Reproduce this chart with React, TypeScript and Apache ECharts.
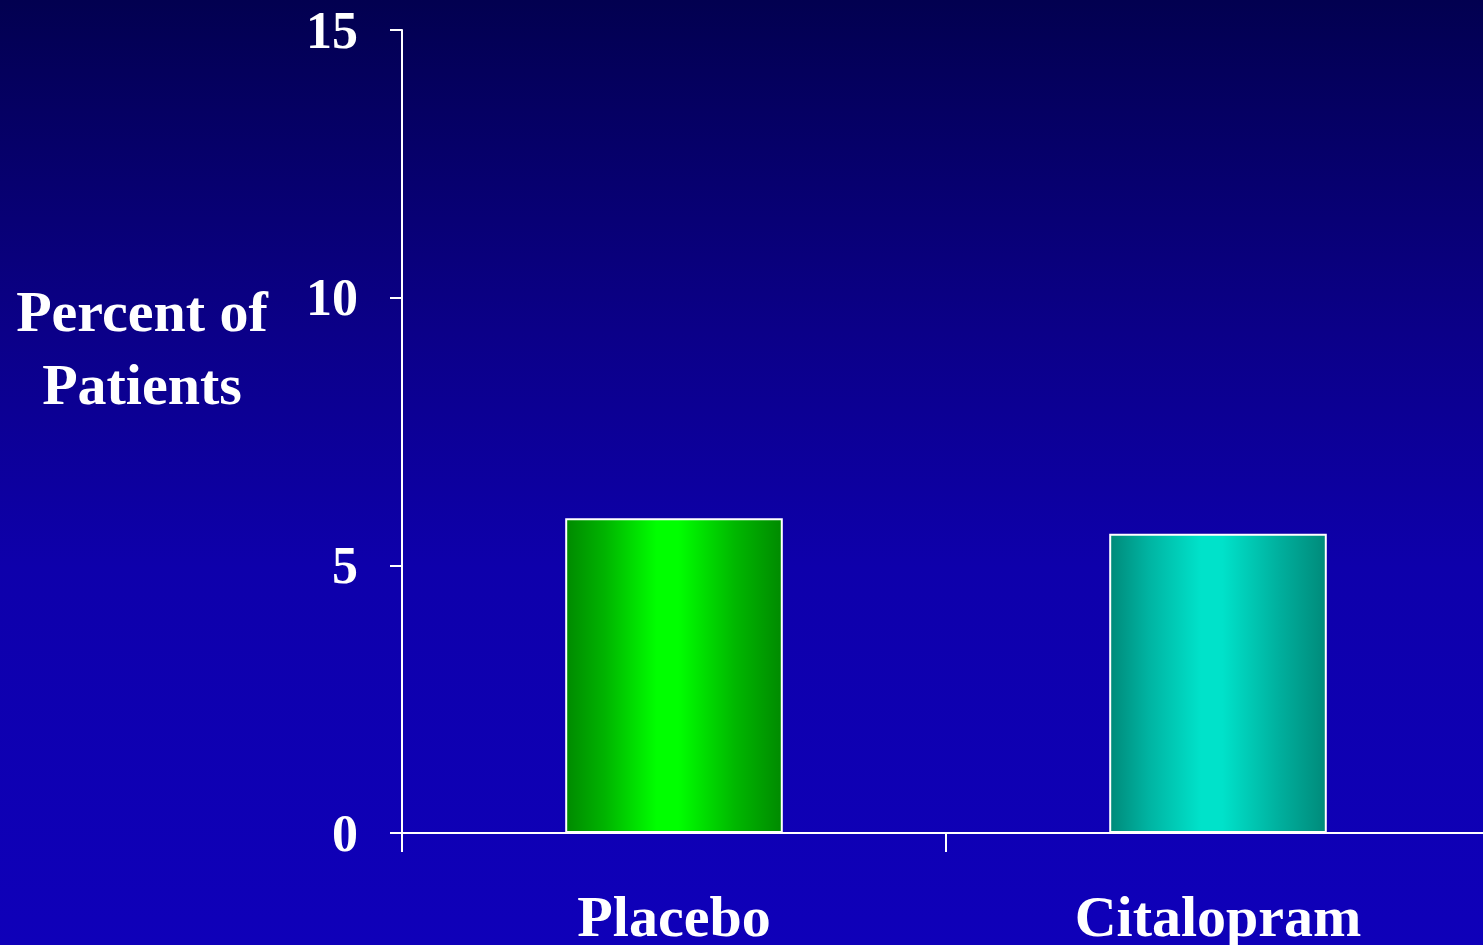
import React, { useEffect, useRef } from "react";
import * as echarts from "echarts";

const categories = ["Placebo", "Citalopram"];
const values = [5.88, 5.59];
const yTicks = { min: 0, max: 15, interval: 5 };
const yAxisTitle = ["Percent of", "Patients"];

const barColors = [
  ["#008a00", "#00b400", "#00ff00", "#00ff00", "#00b800", "#008a00"],
  ["#008a7a", "#00b4a2", "#00e2ca", "#00e2ca", "#00b09e", "#008a7a"],
];

export default function App() {
  const ref = useRef<HTMLDivElement>(null);
  useEffect(() => {
    const chart = echarts.init(ref.current!, null, { renderer: "svg" });
    const font = "'Liberation Serif', 'Times New Roman', serif";
    chart.setOption({
      animation: false,
      backgroundColor: new echarts.graphic.LinearGradient(0, 0, 0, 1, [
        { offset: 0, color: "#020050" },
        { offset: 0.35, color: "#0b0088" },
        { offset: 0.6, color: "#0e00ab" },
        { offset: 1, color: "#0f00b9" },
      ]),
      grid: { left: 402, top: 30, bottom: 112, right: 0 },
      xAxis: {
        type: "category",
        data: categories,
        boundaryGap: true,
        axisLine: { show: true, lineStyle: { color: "#ffffff", width: 2 } },
        axisTick: { show: true, length: 19, alignWithLabel: false, lineStyle: { color: "#ffffff", width: 2 } },
        axisLabel: {
          color: "#ffffff",
          fontFamily: font,
          fontWeight: "bold",
          fontSize: 58,
          margin: 54,
          interval: 0,
        },
      },
      yAxis: {
        type: "value",
        min: yTicks.min,
        max: yTicks.max,
        interval: yTicks.interval,
        splitLine: { show: false },
        axisLine: { show: true, lineStyle: { color: "#ffffff", width: 2 } },
        axisTick: { show: true, length: 12, lineStyle: { color: "#ffffff", width: 2 } },
        axisLabel: {
          color: "#ffffff",
          fontFamily: font,
          fontWeight: "bold",
          fontSize: 52,
          margin: 44,
        },
      },
      graphic: [
        {
          type: "text",
          x: 142,
          y: 275,
          style: {
            text: yAxisTitle.join("\n"),
            fill: "#ffffff",
            font: `bold 58px ${font}`,
            lineHeight: 73,
            align: "center",
            verticalAlign: "top",
          },
        },
      ],
      series: [
        {
          type: "bar",
          barWidth: "40%",
          data: values.map((v, i) => ({
            value: v,
            itemStyle: {
              color: new echarts.graphic.LinearGradient(0, 0, 1, 0,
                barColors[i].map((c, j) => ({ offset: [0, 0.18, 0.42, 0.52, 0.78, 1][j], color: c }))),
              borderColor: "#ffffff",
              borderWidth: 2,
            },
          })),
        },
      ],
    });
    return () => chart.dispose();
  }, []);
  return (
    <div style={{ position: "absolute", left: 0, top: 0, width: 1483, height: 945, overflow: "hidden" }}>
      <div ref={ref} style={{ width: 1490, height: 945 }} />
    </div>
  );
}
